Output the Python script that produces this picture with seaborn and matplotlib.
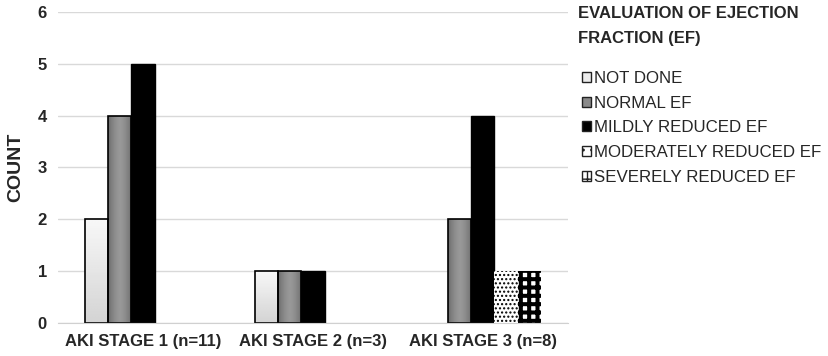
import numpy as np
import pandas as pd
import matplotlib
matplotlib.use("Agg")
import matplotlib.pyplot as plt
import seaborn as sns

# data
stages = ["AKI STAGE 1 (n=11)", "AKI STAGE 2 (n=3)", "AKI STAGE 3 (n=8)"]
ef_groups = ["NOT DONE", "NORMAL EF", "MILDLY REDUCED EF",
             "MODERATELY REDUCED EF", "SEVERELY REDUCED EF"]
not_done = [2, 1, 0]
normal_ef = [4, 1, 2]
mildly = [5, 1, 4]
moderately = [0, 0, 1]
severely = [0, 0, 1]

rows = []
for vals, grp in zip([not_done, normal_ef, mildly, moderately, severely], ef_groups):
    for st, v in zip(stages, vals):
        rows.append({"stage": st, "EF": grp, "count": v})
df = pd.DataFrame(rows)

sns.set_style("white")
plt.rcParams["font.family"] = ["Liberation Sans", "DejaVu Sans"]
plt.rcParams["hatch.linewidth"] = 1.0

fig = plt.figure(figsize=(8.29, 3.56), dpi=100)
ax = fig.add_axes([0.070, 0.093, 0.615, 0.873])

sns.barplot(data=df, x="stage", y="count", hue="EF", order=stages,
            hue_order=ef_groups, width=0.68, ax=ax, legend=False,
            errorbar=None, saturation=1)

# gradient images used as fill for the first two series
g = np.linspace(0, 1, 64)
grad_light = np.tile((0.97 - 0.14 * g)[:, None], (1, 16))  # light top, greyer bottom
xx = np.linspace(-1, 1, 16)
grad_mid = 0.60 - 0.16 * np.abs(xx)[None, :] ** 1.5 + 0 * g[:, None]

styles = [
    dict(fc="#ececec", ec="black", hatch=None, lw=1.2, img=grad_light),
    dict(fc="#8a8a8a", ec="black", hatch=None, lw=1.2, img=grad_mid),
    dict(fc="black", ec="black", hatch=None, lw=1.0, img=None),
    dict(fc="white", ec="black", hatch="....", lw=0.0, img=None),
    dict(fc="white", ec="black", hatch="++", lw=0.0, img=None),
]
handles = []
for cont, st in zip(ax.containers, styles):
    for p in cont:
        p.set_facecolor(st["fc"])
        p.set_edgecolor(st["ec"])
        p.set_linewidth(st["lw"])
        if p.get_height() == 0:
            p.set_visible(False)
            continue
        if st["hatch"]:
            p.set_hatch(st["hatch"])
            if "+" in st["hatch"] and hasattr(p, "set_hatch_linewidth"):
                p.set_hatch_linewidth(2.9)
        if st["img"] is not None:
            x0, y0 = p.get_x(), p.get_y()
            im = ax.imshow(st["img"], cmap="gray", vmin=0, vmax=1, aspect="auto",
                           extent=[x0, x0 + p.get_width(), y0, y0 + p.get_height()],
                           origin="upper", zorder=p.get_zorder() - 0.01)
            im.set_clip_path(p)
            p.set_facecolor("none")
    h = plt.Rectangle((0, 0), 1, 1, fc=st["fc"], ec="#222222", lw=1.0,
                      hatch=(st["hatch"][:2] if st["hatch"] else None))
    handles.append(h)

ax.set_xlim(-0.5, 2.5)
ax.set_ylim(0, 6)
ax.set_yticks(range(0, 7))
ax.yaxis.grid(True, color="#d9d9d9", lw=1.0)
ax.set_axisbelow(True)
for s in ["top", "right", "left"]:
    ax.spines[s].set_visible(False)
ax.spines["bottom"].set_color("#d0d0d0")
ax.tick_params(axis="both", length=0, labelsize=12, pad=8)
for lab in ax.get_xticklabels() + ax.get_yticklabels():
    lab.set_fontweight("bold")
ax.set_xlabel("")
ax.set_ylabel("COUNT", fontsize=14, fontweight="bold", labelpad=10)

fig.text(578 / 829, 1 - 6 / 356, "EVALUATION OF EJECTION\nFRACTION (EF)",
         ha="left", va="top", fontsize=12, fontweight="bold", linespacing=1.85)
leg = fig.legend(handles, ef_groups, loc="upper left",
                 bbox_to_anchor=(582 / 829, 1 - 71 / 356), frameon=False,
                 fontsize=12.2, handlelength=0.55, handleheight=0.55,
                 handletextpad=0.15, labelspacing=0.57, borderaxespad=0.0,
                 borderpad=0.0)

fig.savefig("out.png", dpi=100)
